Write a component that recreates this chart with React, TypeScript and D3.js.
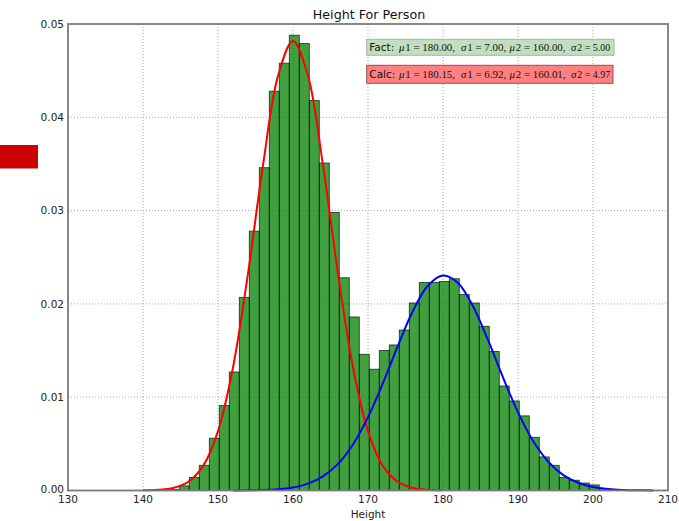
import React from "react";
import * as d3 from "d3";

// ---- data ----
const histStart = 143.507; // left edge of first bin
const histBinWidth = 1.3333;
const histValues = [
  0.0001, 0.0005, 0.0014, 0.0027, 0.0056, 0.0091, 0.0127, 0.0207, 0.0278, 0.0346,
  0.0428, 0.0458, 0.0488, 0.0479, 0.0418, 0.0351, 0.0298, 0.0228, 0.0186, 0.0146,
  0.013, 0.015, 0.0156, 0.0172, 0.0201, 0.0223, 0.0223, 0.0224, 0.0227, 0.021,
  0.0201, 0.0176, 0.0149, 0.0112, 0.0096, 0.008, 0.0057, 0.0036, 0.0027, 0.0014,
  0.0011, 0.0008, 0.0006, 0.0002, 0.0001,
];

const redX = [140, 142, 144, 146, 148, 150, 152, 154, 156, 158, 160, 162, 164, 166, 168, 170, 172, 174, 176, 178, 180];
const redY = [
  0.000015, 0.000068, 0.00027, 0.00091, 0.00261, 0.00637, 0.01319, 0.02325, 0.03486, 0.04444,
  0.04819, 0.04444, 0.03486, 0.02325, 0.01319, 0.00637, 0.00261, 0.00091, 0.00027, 0.000068, 0.000015,
];

const blueX = [152, 154, 156, 158, 160, 162, 164, 166, 168, 170, 172, 174, 176, 178, 180, 182, 184, 186, 188, 190, 192, 194, 196, 198, 200, 202, 204, 206, 208];
const blueY = [
  0.000006, 0.000018, 0.000052, 0.000137, 0.000332, 0.00074, 0.001514, 0.00285, 0.004937, 0.007866,
  0.011526, 0.015535, 0.019264, 0.021974, 0.023055, 0.022251, 0.019753, 0.016133, 0.012118, 0.008373,
  0.005322, 0.003113, 0.001674, 0.000828, 0.000377, 0.000158, 0.000061, 0.000022, 0.000007,
];

const xTicks = [130, 140, 150, 160, 170, 180, 190, 200, 210];
const yTicks = [0, 0.01, 0.02, 0.03, 0.04, 0.05];

const titleText = "Height For Person";
const xLabelText = "Height";
const factLabel = "Fact:";
const factParams = [
  ["μ", "1", "180.00"],
  ["σ", "1", "7.00"],
  ["μ", "2", "160.00"],
  ["σ", "2", "5.00"],
];
const calcLabel = "Calc:";
const calcParams = [
  ["μ", "1", "180.15"],
  ["σ", "1", "6.92"],
  ["μ", "2", "160.01"],
  ["σ", "2", "4.97"],
];

// ---- layout ----
const W = 679;
const H = 521;
const left = 68;
const right = 668;
const top = 24;
const bottom = 490.5;

const sans = "'DejaVu Sans', sans-serif";
const serif = "'Liberation Serif', 'DejaVu Serif', serif";
const groupX = [0, 62, 110.5, 172];

function MathText({ x, y, params }: { x: number; y: number; params: string[][] }) {
  return (
    <g fontFamily={serif} fontSize={10.9} fill="#111">
      {params.map((p, i) => (
        <g key={i}>
          <text x={x + groupX[i]} y={y} fontStyle="italic">
            {p[0]}
          </text>
          <text
            x={x + groupX[i] + 6.3}
            y={y}
            {...(i === params.length - 1 ? { textLength: 33, lengthAdjust: "spacingAndGlyphs" } : {})}
          >
            {p[1] + " = " + p[2] + (i < params.length - 1 ? "," : "")}
          </text>
        </g>
      ))}
    </g>
  );
}

export default function App() {
  const x = d3.scaleLinear().domain([130, 210]).range([left, right]);
  const y = d3.scaleLinear().domain([0, 0.05]).range([bottom, top]);

  const redLine = d3
    .line<number>()
    .x((_, i) => x(redX[i]))
    .y((d) => y(d))
    .curve(d3.curveCatmullRom)(redY) as string;
  const blueLine = d3
    .line<number>()
    .x((_, i) => x(blueX[i]))
    .y((d) => y(d))
    .curve(d3.curveCatmullRom)(blueY) as string;

  return (
    <svg
      width={W}
      height={H}
      viewBox={`0 0 ${W} ${H}`}
      style={{ position: "absolute", left: 0, top: 0, display: "block", background: "#fff" }}
    >
      <rect x={0} y={0} width={W} height={H} fill="#fff" />
      {/* red marker at left */}
      <rect x={0} y={145} width={38} height={23.5} fill="#cc0000" />

      {/* grid */}
      <g stroke="#9a9a9a" strokeWidth={0.9} strokeDasharray="1,2">
        {xTicks.slice(1, -1).map((t) => (
          <line key={"gx" + t} x1={x(t)} x2={x(t)} y1={top} y2={bottom} />
        ))}
        {yTicks.slice(1, -1).map((t) => (
          <line key={"gy" + t} x1={left} x2={right} y1={y(t)} y2={y(t)} />
        ))}
      </g>

      {/* histogram */}
      <g>
        {histValues.map((v, i) => {
          const x0 = x(histStart + i * histBinWidth);
          const x1 = x(histStart + (i + 1) * histBinWidth);
          return (
            <rect
              key={"b" + i}
              x={x0}
              y={y(v)}
              width={x1 - x0}
              height={y(0) - y(v)}
              fill="green"
              fillOpacity={0.75}
              stroke="#000"
              strokeOpacity={0.7}
              strokeWidth={0.9}
            />
          );
        })}
      </g>

      {/* curves */}
      <path d={redLine} fill="none" stroke="#ff0000" strokeWidth={2} />
      <path d={blueLine} fill="none" stroke="#0000ff" strokeWidth={2} />

      {/* frame */}
      <rect x={left} y={top} width={right - left} height={bottom - top} fill="none" stroke="#7a7a7a" strokeWidth={1.8} />

      {/* y tick labels */}
      <g fontFamily={sans} fontSize={10.5} fill="#222" textAnchor="end">
        {yTicks.map((t) => (
          <text key={"yl" + t} x={left - 4} y={y(t)} dy={t === 0 ? "0.25em" : "0.36em"}>
            {t.toFixed(2)}
          </text>
        ))}
      </g>
      {/* x tick labels */}
      <g fontFamily={sans} fontSize={10.5} fill="#222" textAnchor="middle">
        {xTicks.map((t) => (
          <text key={"xl" + t} x={x(t)} y={502.5}>
            {t}
          </text>
        ))}
      </g>

      {/* title and label */}
      <text x={(left + right) / 2 + 1} y={19} textAnchor="middle" fontFamily={sans} fontSize={12.7} fill="#111">
        {titleText}
      </text>
      <text x={(left + right) / 2} y={518} textAnchor="middle" fontFamily={sans} fontSize={10.5} fill="#222">
        {xLabelText}
      </text>

      {/* annotation boxes */}
      <rect x={366.7} y={39.3} width={247.3} height={16} fill="rgb(191,223,191)" stroke="rgb(160,185,160)" strokeWidth={1} />
      <text x={369.3} y={51} fontFamily={sans} fontSize={10.5} fill="#111">
        {factLabel}
      </text>
      <MathText x={399} y={51} params={factParams} />

      <rect x={366.7} y={65.3} width={246.3} height={18} fill="rgb(255,128,128)" stroke="rgb(150,80,80)" strokeWidth={1} />
      <text x={369.3} y={78} fontFamily={sans} fontSize={10.5} fill="#111">
        {calcLabel}
      </text>
      <MathText x={399} y={78} params={calcParams} />
    </svg>
  );
}
